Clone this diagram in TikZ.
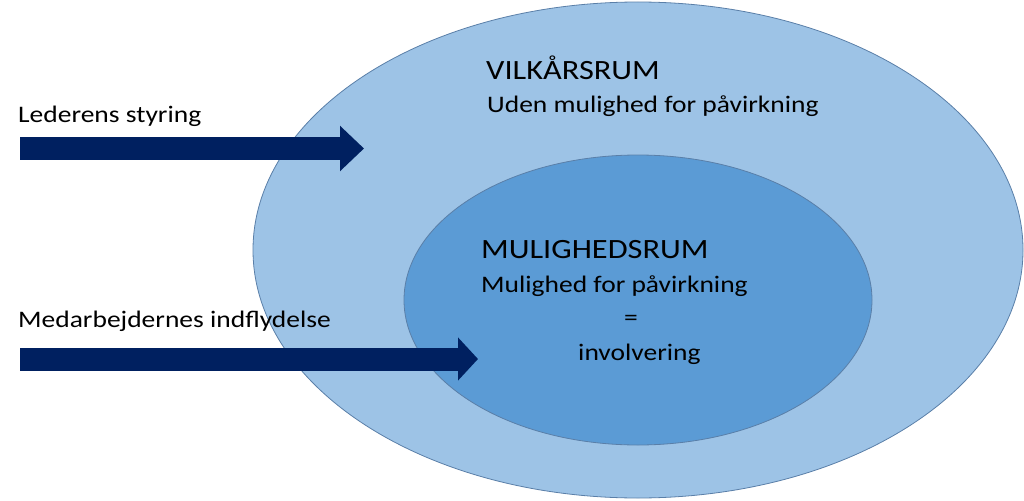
\documentclass[tikz,border=0pt]{standalone}
\usepackage{fontspec}
\setmainfont[FakeStretch=1.16]{Carlito}
\usetikzlibrary{arrows.meta,shapes.geometric}

\definecolor{rumlys}{HTML}{9DC3E6}
\definecolor{rummork}{HTML}{5B9BD5}
\definecolor{rumkant}{HTML}{5A7FA8}
\definecolor{pilblaa}{HTML}{002060}

\begin{document}
\begin{tikzpicture}[x=1pt,y=-1pt]
	\useasboundingbox (0,0) rectangle (1024,500);
	\begin{scope}[every node/.style={ellipse,draw=rumkant,line width=0.8pt,inner sep=0pt}]
		\node[fill=rumlys,minimum width=770pt,minimum height=496pt] (vilkaar) at (638,250) {};
		\node[fill=rummork,minimum width=468pt,minimum height=290pt] (mulighed) at (638,300) {};
	\end{scope}
	\begin{scope}[every node/.style={anchor=base west,inner sep=0pt,font=\fontsize{23.7}{28}\selectfont}]
		\node (styring) at (18,122) {Lederens styring};
		\node (indflyd) at (18,327) {Medarbejdernes indflydelse};
		\node[font=\fontsize{27.9}{32}\selectfont] (vtitel) at (486,80) {VILKÅRSRUM};
		\node (vtekst) at (487,113) {Uden mulighed for påvirkning};
		\node[font=\fontsize{27.9}{32}\selectfont] (mtitel) at (481,258) {MULIGHEDSRUM};
		\node (mtekst) at (481,292) {Mulighed for påvirkning};
		\node[anchor=base] (lig) at (631,325.5) {=};
		\node[anchor=base west] (invol) at (578,360) {involvering};
	\end{scope}
	\coordinate (styrfra) at (20,148.5);
	\coordinate (styrtil) at (364,148.5);
	\coordinate (indfra) at (20,359);
	\coordinate (indtil) at (478,359);
	\begin{scope}[line width=23pt,draw=pilblaa]
		\draw[-{Triangle[length=24pt,width=44pt]}] (styrfra) -- (styrtil);
		\draw[-{Triangle[length=20pt,width=42pt]}] (indfra) -- (indtil);
	\end{scope}
\end{tikzpicture}
\end{document}
